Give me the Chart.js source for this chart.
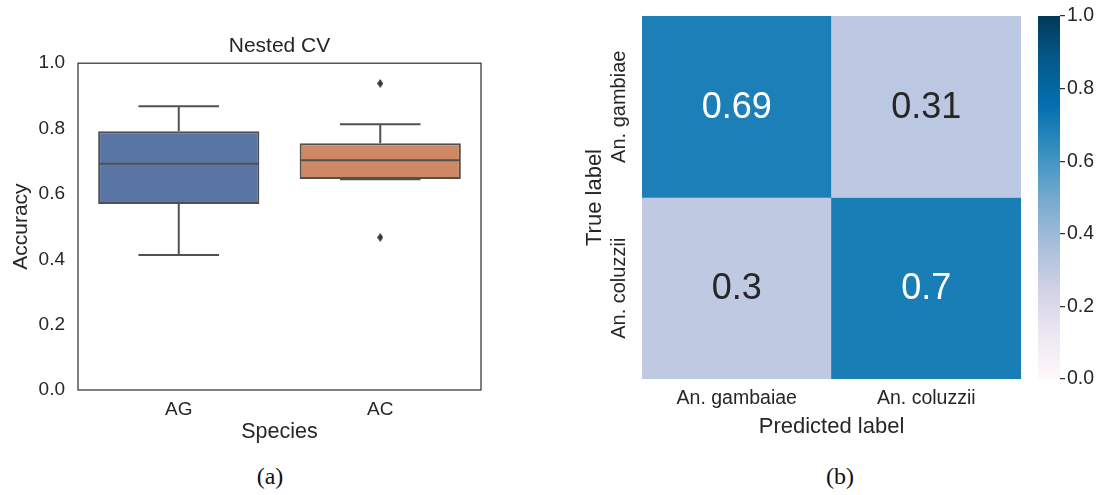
<!DOCTYPE html>
<html>
<head>
<meta charset="utf-8">
<script src="https://cdn.jsdelivr.net/npm/chart.js@4.4.1/dist/chart.umd.min.js"></script>
<style>
  html, body { margin: 0; padding: 0; background: #fff; }
  body { width: 1109px; height: 495px; position: relative; overflow: hidden; }
  .panel { position: absolute; }
  #boxWrap { left: 0; top: 0; width: 500px; height: 460px; }
  #heatWrap { left: 540px; top: 0; width: 490px; height: 460px; }
  #barWrap { left: 1030px; top: 0; width: 79px; height: 460px; }
  .cap { position: absolute; top: 460px; width: 100px; height: 32px; line-height: 32px; text-align: center;
         font-family: "Liberation Serif", "DejaVu Serif", serif; font-size: 24px; color: #111; }
</style>
</head>
<body>
<div class="panel" id="boxWrap"><canvas id="boxChart"></canvas></div>
<div class="panel" id="heatWrap"><canvas id="heatChart"></canvas></div>
<div class="panel" id="barWrap"><canvas id="barChart"></canvas></div>
<div class="cap" style="left:220px;">(a)</div>
<div class="cap" style="left:790px;">(b)</div>
<script>
// Nested cross-validation accuracy, one box per species
const species = ['AG', 'AC'];
const whiskerLow  = [0.413, 0.645];
const q1          = [0.569, 0.646];
const median      = [0.692, 0.703];
const q3          = [0.792, 0.755];
const whiskerHigh = [0.868, 0.813];
const outliers    = [[], [0.938, 0.467]];
const accuracyTicks = [0, 0.2, 0.4, 0.6, 0.8, 1.0];

// Row-normalised confusion matrix
const predictedLabels = ['An. gambaiae', 'An. coluzzii'];
const trueLabels = ['An. gambiae', 'An. coluzzii'];
const confusionRows = [[0.69, 0.31], [0.3, 0.7]];
const colorbarTicks = [0, 0.2, 0.4, 0.6, 0.8, 1.0];

const FONT = '"Liberation Sans", Arial, sans-serif';
const TEXT = '#262626';
const EDGE = '#505050';
const FRAME = '#333333';
const boxColors = ['#5975a4', '#cc8963'];

// PuBu colour map stops
const PUBU = ['#fff7fb', '#ece7f2', '#d0d1e6', '#a6bddb', '#74a9cf', '#3690c0', '#0570b0', '#045a8d', '#023858'];
function hexRgb(h) { return [1, 3, 5].map(i => parseInt(h.slice(i, i + 2), 16)); }
function pubu(t) {
  t = Math.max(0, Math.min(1, t));
  const pos = t * (PUBU.length - 1);
  const i = Math.min(PUBU.length - 2, Math.floor(pos));
  const f = pos - i;
  const a = hexRgb(PUBU[i]), b = hexRgb(PUBU[i + 1]);
  const c = a.map((v, k) => Math.round(v + (b[k] - v) * f));
  return `rgb(${c[0]},${c[1]},${c[2]})`;
}

// thin diamond marker for outliers
const diamond = document.createElement('canvas');
diamond.width = 6; diamond.height = 9;
(function () {
  const g = diamond.getContext('2d');
  g.fillStyle = '#3a3a3a';
  g.beginPath(); g.moveTo(3, 0); g.lineTo(6, 4.5); g.lineTo(3, 9); g.lineTo(0, 4.5); g.closePath(); g.fill();
})();

// whiskers, caps, medians and the axes frame
const boxPlugin = {
  id: 'boxWhiskers',
  afterDatasetsDraw(chart) {
    const { ctx, scales: { x, y } } = chart;
    const bars = chart.getDatasetMeta(0).data;
    const seg = (x1, y1, x2, y2) => { ctx.beginPath(); ctx.moveTo(x1, y1); ctx.lineTo(x2, y2); ctx.stroke(); };
    ctx.save();
    ctx.strokeStyle = EDGE;
    ctx.lineWidth = 2;
    species.forEach((s, i) => {
      const cx = x.getPixelForValue(i);
      const half = bars[i].width / 2;
      const yLo = y.getPixelForValue(whiskerLow[i]);
      const yHi = y.getPixelForValue(whiskerHigh[i]);
      const yQ1 = y.getPixelForValue(q1[i]);
      const yQ3 = y.getPixelForValue(q3[i]);
      const yMed = y.getPixelForValue(median[i]);
      seg(cx, yQ1, cx, yLo);
      seg(cx, yQ3, cx, yHi);
      seg(cx - half / 2, yLo, cx + half / 2, yLo);
      seg(cx - half / 2, yHi, cx + half / 2, yHi);
      seg(cx - half + 1, yMed, cx + half - 1, yMed);
    });
    const a = chart.chartArea;
    ctx.strokeStyle = FRAME;
    ctx.lineWidth = 1.25;
    ctx.strokeRect(a.left, a.top, a.right - a.left, a.bottom - a.top);
    ctx.restore();
  }
};

new Chart(document.getElementById('boxChart'), {
  type: 'bar',
  data: {
    labels: species,
    datasets: [
      {
        type: 'bar',
        data: species.map((_, i) => [q1[i], q3[i]]),
        backgroundColor: boxColors,
        borderColor: EDGE,
        borderWidth: 2,
        borderSkipped: false,
        barPercentage: 0.8,
        categoryPercentage: 1,
        order: 1
      },
      {
        type: 'line',
        data: outliers.flatMap((vals, i) => vals.map(v => ({ x: species[i], y: v }))),
        showLine: false,
        pointStyle: diamond,
        pointRadius: 4,
        order: 0
      }
    ]
  },
  options: {
    responsive: true,
    maintainAspectRatio: false,
    animation: false,
    layout: { padding: { left: 0, right: 19, top: 0, bottom: 0 } },
    plugins: {
      legend: { display: false },
      tooltip: { enabled: false },
      title: {
        display: true, text: 'Nested CV', fullSize: false, color: TEXT,
        font: { family: FONT, size: 21, weight: 'normal' },
        padding: { top: 34, bottom: 4 }
      }
    },
    scales: {
      x: {
        grid: { display: false, drawTicks: false },
        border: { display: false },
        ticks: { color: TEXT, font: { family: FONT, size: 19 }, padding: 8 },
        title: { display: true, text: 'Species', color: TEXT, font: { family: FONT, size: 21.5 }, padding: { top: 0, bottom: 15 } },
        afterFit: s => { s.height = 70; }
      },
      y: {
        min: 0, max: 1,
        afterBuildTicks: s => { s.ticks = accuracyTicks.map(v => ({ value: v })); },
        grid: { display: false, drawTicks: false },
        border: { display: false },
        ticks: { color: TEXT, font: { family: FONT, size: 19 }, padding: 13, callback: v => Number(v).toFixed(1) },
        title: { display: true, text: 'Accuracy', color: TEXT, font: { family: FONT, size: 21 }, padding: { top: 9, bottom: 0 } },
        afterFit: s => { s.width = 78; }
      }
    }
  },
  plugins: [boxPlugin]
});

// cell annotations and rotated row labels for the confusion matrix
const cellPlugin = {
  id: 'cellText',
  afterDatasetsDraw(chart) {
    const { ctx, scales: { y } } = chart;
    ctx.save();
    ctx.textAlign = 'center';
    ctx.textBaseline = 'middle';
    trueLabels.forEach((row, r) => {
      ctx.font = '36px ' + FONT;
      chart.getDatasetMeta(r).data.forEach((el, c) => {
        const v = confusionRows[r][c];
        ctx.fillStyle = v >= 0.5 ? '#ffffff' : TEXT;
        ctx.fillText(String(v), el.x, (el.y + el.base) / 2 + 1);
      });
      ctx.save();
      ctx.translate(79, y.getPixelForValue(r + 0.5));
      ctx.rotate(-Math.PI / 2);
      ctx.font = '20px ' + FONT;
      ctx.fillStyle = TEXT;
      ctx.fillText(row, 0, 0);
      ctx.restore();
    });
    ctx.restore();
  }
};

new Chart(document.getElementById('heatChart'), {
  type: 'bar',
  data: {
    labels: predictedLabels,
    datasets: trueLabels.map((row, r) => ({
      label: row,
      data: confusionRows[r].map(() => [r, r + 1]),
      backgroundColor: confusionRows[r].map(pubu),
      borderWidth: 0,
      barPercentage: 1,
      categoryPercentage: 1,
      grouped: false
    }))
  },
  options: {
    responsive: true,
    maintainAspectRatio: false,
    animation: false,
    layout: { padding: { left: 0, right: 9, top: 16, bottom: 0 } },
    plugins: { legend: { display: false }, tooltip: { enabled: false } },
    scales: {
      x: {
        grid: { display: false, drawTicks: false },
        border: { display: false },
        ticks: { color: TEXT, font: { family: FONT, size: 19.5 }, padding: 8 },
        title: { display: true, text: 'Predicted label', color: TEXT, font: { family: FONT, size: 22 }, padding: { top: 0, bottom: 20 } },
        afterFit: s => { s.height = 81; }
      },
      y: {
        min: 0, max: trueLabels.length, reverse: true,
        grid: { display: false, drawTicks: false },
        border: { display: false },
        ticks: { display: false },
        title: { display: true, text: 'True label', color: TEXT, font: { family: FONT, size: 22 }, padding: { top: 42, bottom: 0 } },
        afterFit: s => { s.width = 102; }
      }
    }
  },
  plugins: [cellPlugin]
});

// colour bar for the confusion matrix
new Chart(document.getElementById('barChart'), {
  type: 'bar',
  data: {
    labels: [''],
    datasets: [{
      data: [[0, 1]],
      backgroundColor: (c) => {
        const { chart } = c;
        const y = chart.scales.y;
        if (!chart.chartArea || !y) return PUBU[4];
        const g = chart.ctx.createLinearGradient(0, y.getPixelForValue(0), 0, y.getPixelForValue(1));
        PUBU.forEach((col, i) => g.addColorStop(i / (PUBU.length - 1), col));
        return g;
      },
      borderWidth: 0,
      barPercentage: 1,
      categoryPercentage: 1
    }]
  },
  options: {
    responsive: true,
    maintainAspectRatio: false,
    animation: false,
    layout: { padding: { left: 8, right: 0, top: 16, bottom: 81 } },
    plugins: { legend: { display: false }, tooltip: { enabled: false } },
    scales: {
      x: { display: false },
      y: {
        position: 'right',
        min: 0, max: 1,
        afterBuildTicks: s => { s.ticks = colorbarTicks.map(v => ({ value: v })); },
        grid: { display: true, drawOnChartArea: false, drawTicks: true, tickLength: 5, color: '#333333', lineWidth: 1.25 },
        border: { display: false },
        ticks: { color: TEXT, font: { family: FONT, size: 19.5 }, padding: 2, callback: v => Number(v).toFixed(1) },
        afterFit: s => { s.width = 49; }
      }
    }
  }
});
</script>
</body>
</html>
